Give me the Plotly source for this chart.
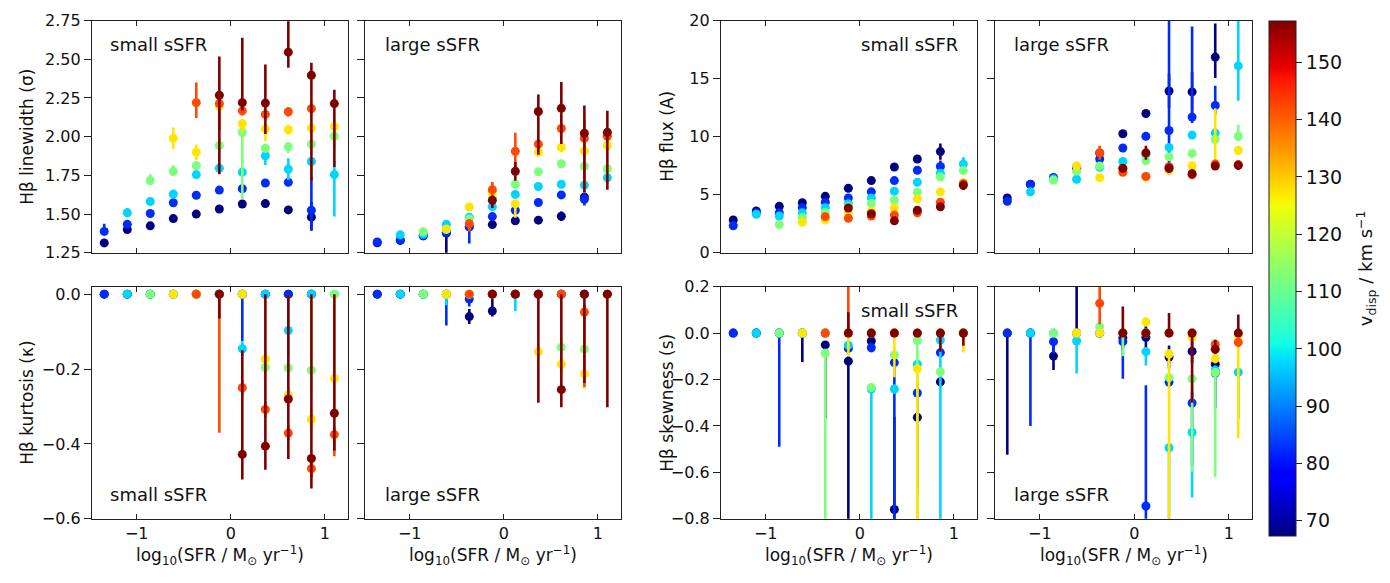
import plotly.graph_objects as go

N = None
D = 0.005

# ---------------- data ----------------
LOG_SFR = [-1.345, -1.1, -0.856, -0.611, -0.367, -0.122, 0.122, 0.367, 0.611, 0.856, 1.1]
VDISP = [67.4, 82.4, 97.4, 112.4, 127.3, 142.3, 157.3]
VMIN, VMAX = 67.4, 157.3

LW_SMALL = [
    [1.314, 1.400, 1.424, 1.471, 1.500, 1.533, 1.565, 1.568, 1.527, 1.480, N],
    [1.388, 1.434, 1.504, 1.573, 1.622, 1.655, 1.664, 1.701, 1.705, 1.525, N],
    [N, 1.509, 1.581, 1.629, 1.755, 1.796, 1.771, 1.877, 1.790, 1.840, 1.755],
    [N, N, 1.717, 1.776, 1.813, 1.943, 2.028, 1.925, 1.935, 1.952, 2.003],
    [N, N, N, 1.990, 1.900, 2.196, 2.084, 2.051, 2.045, 2.055, 2.065],
    [N, N, N, N, 2.220, 2.214, 2.167, 2.144, 2.161, 2.181, N],
    [N, N, N, N, N, 2.268, 2.220, 2.217, 2.546, 2.397, 2.214],
]
LW_SMALL_LO = [
    [0.02, 0.015, 0.015, 0.015, 0.01, 0.01, 0.01, 0.01, 0.015, 0.087, N],
    [0.02, 0.015, 0.015, 0.015, 0.015, 0.015, 0.015, 0.015, 0.015, 0.13, N],
    [N, 0.03, 0.02, 0.02, 0.02, 0.02, 0.02, 0.06, 0.07, 0.10, 0.27],
    [N, N, 0.03, 0.03, 0.03, 0.05, 0.43, 0.03, 0.04, 0.04, 0.09],
    [N, N, N, 0.07, 0.05, 0.03, 0.06, 0.08, 0.03, 0.03, 0.03],
    [N, N, N, N, 0.10, 0.17, 0.03, 0.03, 0.03, 0.03, N],
    [N, N, N, N, N, 0.51, 0.05, 0.20, 0.10, 0.68, 0.41],
]
LW_SMALL_HI = [
    [0.02, 0.015, 0.015, 0.015, 0.01, 0.01, 0.01, 0.01, 0.015, 0.098, N],
    [0.05, 0.02, 0.015, 0.015, 0.015, 0.015, 0.015, 0.015, 0.015, 0.22, N],
    [N, 0.03, 0.02, 0.02, 0.02, 0.02, 0.02, 0.03, 0.07, 0.02, 0.09],
    [N, N, 0.04, 0.04, 0.03, 0.05, 0.05, 0.03, 0.03, 0.03, 0.03],
    [N, N, N, 0.07, 0.05, 0.03, 0.03, 0.03, 0.03, 0.03, 0.05],
    [N, N, N, N, 0.13, 0.03, 0.03, 0.03, 0.03, 0.03, N],
    [N, N, N, N, N, 0.25, 0.42, 0.25, 0.20, 0.08, 0.09],
]

LW_LARGE = [
    [1.315, 1.330, 1.360, 1.378, 1.417, 1.432, 1.457, 1.461, 1.486, 1.610, N],
    [1.320, 1.332, 1.360, 1.380, 1.420, 1.484, 1.525, 1.575, 1.624, 1.596, N],
    [N, 1.366, 1.370, 1.434, 1.480, 1.548, 1.627, 1.678, 1.693, 1.687, 1.735],
    [N, N, 1.386, 1.400, 1.469, 1.606, 1.693, 1.773, 1.825, 1.809, 1.793],
    [N, N, N, 1.403, 1.546, 1.637, 1.566, 1.900, 1.931, 1.908, 1.943],
    [N, N, N, N, 1.438, 1.658, 1.906, 1.952, 2.053, 1.990, 2.003],
    [N, N, N, N, N, 1.589, 1.776, 2.163, 2.183, 2.022, 2.028],
]
LW_LARGE_LO = [
    [0.02, 0.01, 0.01, 0.15, 0.02, 0.015, 0.015, 0.015, 0.03, 0.03, N],
    [0.015, 0.01, 0.01, 0.02, 0.11, 0.015, 0.015, 0.015, 0.015, 0.04, N],
    [N, 0.01, 0.01, 0.02, 0.02, 0.02, 0.02, 0.02, 0.02, 0.02, 0.04],
    [N, N, 0.01, 0.02, 0.07, 0.02, 0.02, 0.02, 0.02, 0.02, 0.02],
    [N, N, N, 0.02, 0.02, 0.02, 0.09, 0.03, 0.03, 0.03, 0.03],
    [N, N, N, N, 0.05, 0.05, 0.10, 0.03, 0.03, 0.35, 0.03],
    [N, N, N, N, N, 0.05, 0.06, 0.28, 0.23, 0.38, 0.37],
]
LW_LARGE_HI = [
    [0.02, 0.01, 0.01, 0.02, 0.02, 0.015, 0.015, 0.015, 0.03, 0.03, N],
    [0.015, 0.01, 0.01, 0.02, 0.02, 0.015, 0.015, 0.015, 0.015, 0.04, N],
    [N, 0.01, 0.01, 0.02, 0.02, 0.02, 0.02, 0.02, 0.02, 0.02, 0.04],
    [N, N, 0.01, 0.02, 0.02, 0.02, 0.02, 0.02, 0.02, 0.02, 0.02],
    [N, N, N, 0.02, 0.02, 0.02, 0.02, 0.03, 0.03, 0.03, 0.03],
    [N, N, N, N, 0.03, 0.05, 0.12, 0.03, 0.03, 0.12, 0.03],
    [N, N, N, N, N, 0.03, 0.06, 0.11, 0.17, 0.18, 0.14],
]

FLUX_SMALL = [
    [2.83, 3.61, 4.00, 4.31, 4.86, 5.56, 6.22, 7.39, 8.08, 8.72, N],
    [2.33, 3.44, 3.44, 3.89, 4.36, 4.72, 5.25, 6.22, 7.11, 7.44, N],
    [N, 3.31, 3.17, 3.44, 3.89, 4.22, 4.72, 5.31, 6.08, 6.86, 7.64],
    [N, N, 2.42, 3.03, 3.47, 3.97, 4.25, 4.53, 5.22, 6.53, 7.08],
    [N, N, N, 2.64, 2.83, 3.47, 3.58, 3.86, 4.64, 5.25, 6.03],
    [N, N, N, N, 3.11, 2.97, 3.17, 3.25, 3.44, 4.36, 5.95],
    [N, N, N, N, N, 3.86, 3.36, 2.75, 3.67, 3.97, 5.81],
]
FLUX_SMALL_ERR = [
    [0.15, 0.15, 0.15, 0.15, 0.15, 0.30, 0.15, 0.20, 0.30, 0.70, N],
    [0.15, 0.15, 0.15, 0.15, 0.15, 0.15, 0.15, 0.20, 0.20, 0.50, N],
    [N, 0.15, 0.15, 0.15, 0.15, 0.15, 0.15, 0.15, 0.30, 0.30, 0.60],
    [N, N, 0.15, 0.15, 0.15, 0.15, 0.15, 0.15, 0.20, 0.20, 0.30],
    [N, N, N, 0.15, 0.15, 0.15, 0.15, 0.15, 0.20, 0.20, 0.40],
    [N, N, N, N, 0.15, 0.15, 0.15, 0.15, 0.15, 0.20, 0.30],
    [N, N, N, N, N, 0.20, 0.20, 0.15, 0.35, 0.20, 0.40],
]

FLUX_LARGE = [
    [4.72, 5.90, 6.47, 7.36, 8.60, 10.25, 12.00, 13.94, 13.86, 16.86, N],
    [4.44, 5.89, 6.47, 7.28, 8.08, 9.03, 10.03, 10.53, 11.69, 12.69, N],
    [N, 5.25, 6.36, 6.33, 7.36, 7.86, 8.47, 9.08, 10.14, 10.31, 16.10],
    [N, N, 6.25, 7.03, 7.47, 7.22, 7.92, 8.28, 8.56, 9.78, 10.04],
    [N, N, N, 7.47, 6.47, 7.28, 6.53, 7.08, 7.50, 7.64, 8.83],
    [N, N, N, N, 8.61, 6.94, 6.58, 7.42, 6.72, 7.64, 7.60],
    [N, N, N, N, N, 7.28, 8.61, 7.28, 6.81, 7.47, 7.53],
]
FLUX_LARGE_LO = [
    [0.15, 0.15, 0.15, 0.2, 0.2, 0.2, 0.2, 1.5, 1.7, 1.8, N],
    [0.15, 0.2, 0.2, 0.2, 0.2, 0.2, 0.2, 3.7, 0.5, 0.8, N],
    [N, 0.2, 0.2, 0.2, 0.2, 0.2, 0.2, 0.2, 0.3, 0.3, 3.0],
    [N, N, 0.2, 0.2, 0.2, 0.2, 0.2, 0.2, 0.2, 0.3, 0.4],
    [N, N, N, 0.4, 0.2, 0.2, 0.2, 0.2, 0.2, 0.2, 0.4],
    [N, N, N, N, 0.6, 0.3, 0.2, 0.2, 0.2, 0.2, 0.3],
    [N, N, N, N, N, 0.3, 0.6, 0.4, 0.4, 0.3, 0.4],
]
FLUX_LARGE_HI = [
    [0.15, 0.15, 0.15, 0.2, 0.2, 0.2, 0.2, 1.5, 1.7, 2.9, N],
    [0.15, 0.2, 0.2, 0.2, 0.2, 0.2, 0.2, 10.0, 7.8, 1.7, N],
    [N, 0.2, 0.2, 0.2, 0.2, 0.2, 0.2, 0.2, 0.3, 0.3, 5.0],
    [N, N, 0.2, 0.2, 0.2, 0.2, 0.2, 0.2, 0.2, 0.3, 1.0],
    [N, N, N, 0.4, 0.2, 0.2, 0.2, 0.2, 0.2, 4.8, 0.4],
    [N, N, N, N, 0.6, 0.3, 0.2, 0.2, 0.2, 0.2, 0.3],
    [N, N, N, N, N, 0.3, 0.6, 0.4, 0.4, 0.3, 0.4],
]

KURT_SMALL = [
    [0, 0, 0, 0, 0, 0, 0, 0, 0, 0, N],
    [0, 0, 0, 0, 0, 0, 0, 0, 0, 0, N],
    [N, 0, 0, 0, 0, 0, -0.146, 0, -0.097, 0, 0],
    [N, N, 0, 0, 0, 0, 0, -0.196, -0.197, -0.203, 0],
    [N, N, N, 0, 0, 0, 0, -0.174, -0.269, -0.334, -0.225],
    [N, N, N, N, 0, 0, -0.250, -0.308, -0.371, -0.466, -0.375],
    [N, N, N, N, N, 0, -0.428, -0.406, -0.280, -0.439, -0.318],
]
KURT_SMALL_LO = [
    [D, D, D, D, D, D, D, D, D, D, N],
    [D, D, D, D, D, D, 0.125, D, D, D, N],
    [N, D, D, D, D, D, 0.02, D, 0.07, D, D],
    [N, N, D, D, D, D, D, 0.02, 0.02, 0.06, D],
    [N, N, N, D, D, D, D, 0.02, 0.02, 0.025, 0.1],
    [N, N, N, N, D, 0.37, 0.02, 0.02, 0.02, 0.025, 0.058],
    [N, N, N, N, N, 0.065, 0.067, 0.063, 0.16, 0.08, 0.10],
]
KURT_SMALL_HI = [
    [D, D, D, D, D, D, D, D, D, D, N],
    [D, D, D, D, D, D, D, D, D, D, N],
    [N, D, D, D, D, D, 0.02, D, 0.097, D, D],
    [N, N, D, D, D, D, D, 0.02, 0.02, 0.203, D],
    [N, N, N, D, D, D, D, 0.02, 0.02, 0.025, 0.225],
    [N, N, N, N, D, D, 0.02, 0.02, 0.02, 0.025, 0.02],
    [N, N, N, N, N, D, 0.278, 0.406, 0.280, 0.439, 0.318],
]

KURT_LARGE = [
    [0, 0, 0, 0, -0.060, -0.045, 0, 0, 0, 0, N],
    [0, 0, 0, 0, -0.013, 0, 0, 0, 0, 0, N],
    [N, 0, 0, 0, 0, 0, 0, 0, 0, 0, 0],
    [N, N, 0, 0, 0, 0, 0, 0, -0.142, -0.147, 0],
    [N, N, N, 0, 0, 0, 0, -0.154, -0.187, -0.213, 0],
    [N, N, N, N, 0, 0, 0, 0, 0, -0.048, 0],
    [N, N, N, N, N, 0, 0, 0, -0.255, 0, 0],
]
KURT_LARGE_LO = [
    [D, D, D, D, 0.02, 0.015, D, D, D, D, N],
    [D, D, D, 0.084, 0.02, D, D, D, D, D, N],
    [N, D, D, 0.03, D, D, 0.045, D, D, D, D],
    [N, N, D, D, D, D, D, D, 0.02, 0.02, D],
    [N, N, N, D, D, D, D, 0.02, 0.02, 0.04, D],
    [N, N, N, N, D, D, D, D, D, 0.20, D],
    [N, N, N, N, N, D, D, 0.29, 0.047, 0.237, 0.302],
]
KURT_LARGE_HI = [
    [D, D, D, D, 0.02, 0.035, D, D, D, D, N],
    [D, D, D, D, 0.02, D, D, D, D, D, N],
    [N, D, D, D, D, D, D, D, D, D, D],
    [N, N, D, D, D, D, D, D, 0.02, 0.02, D],
    [N, N, N, D, D, D, D, 0.02, 0.02, 0.02, D],
    [N, N, N, N, D, D, D, D, D, 0.02, D],
    [N, N, N, N, N, D, D, D, 0.255, D, D],
]

SKEW_SMALL = [
    [0, 0, 0, 0, -0.051, -0.121, -0.034, -0.760, -0.363, -0.210, N],
    [0, 0, 0, 0, 0, -0.066, -0.063, -0.127, -0.258, -0.084, N],
    [N, 0, 0, 0, 0, -0.052, -0.241, -0.241, -0.134, -0.030, 0],
    [N, N, 0, 0, -0.087, 0, -0.234, -0.094, -0.032, -0.167, 0],
    [N, N, N, 0, 0, 0, 0, 0, -0.154, 0, 0],
    [N, N, N, N, 0, 0, 0, 0, 0, 0, 0],
    [N, N, N, N, N, 0, 0, 0, 0, 0, 0],
]
SKEW_SMALL_LO = [
    [D, D, D, 0.124, 0.315, 0.70, D, 0.06, 0.33, 0.02, N],
    [D, D, 0.49, D, D, 0.02, 0.02, 0.70, 0.10, 0.02, N],
    [N, D, D, D, D, 0.02, 0.60, 0.02, 0.02, 0.80, D],
    [N, N, D, D, 0.75, D, 0.02, 0.02, 0.80, 0.02, D],
    [N, N, N, D, D, 0.10, D, 0.19, 0.70, D, 0.083],
    [N, N, N, N, D, D, D, D, D, D, D],
    [N, N, N, N, N, D, D, D, D, 0.08, 0.055],
]
SKEW_SMALL_HI = [
    [D, D, D, D, 0.01, 0.02, D, 0.40, 0.15, 0.02, N],
    [D, D, D, D, D, 0.02, 0.02, 0.02, 0.02, 0.02, N],
    [N, D, D, D, D, 0.02, 0.02, 0.02, 0.02, 0.02, D],
    [N, N, D, D, 0.02, D, 0.02, 0.02, 0.02, 0.02, D],
    [N, N, N, D, D, D, D, D, 0.02, D, D],
    [N, N, N, N, D, 0.30, D, D, D, D, D],
    [N, N, N, N, N, 0.09, D, D, D, D, D],
]

SKEW_LARGE = [
    [0, 0, -0.099, 0, 0, -0.020, -0.018, -0.103, -0.079, -0.134, N],
    [0, 0, -0.037, 0, 0, -0.037, -0.745, -0.211, -0.301, -0.172, N],
    [N, 0, 0, -0.034, 0, 0, -0.080, -0.494, -0.428, -0.160, -0.169],
    [N, N, 0, 0, 0.028, 0, 0, -0.192, -0.197, -0.170, 0],
    [N, N, N, 0, 0, 0, 0.048, -0.090, -0.018, -0.110, -0.012],
    [N, N, N, N, 0.128, 0, 0, 0, 0, -0.048, -0.040],
    [N, N, N, N, N, 0, 0, 0, 0, -0.070, 0],
]
SKEW_LARGE_LO = [
    [0.524, D, 0.06, D, D, 0.05, 0.05, 0.05, 0.05, 0.03, N],
    [D, 0.40, 0.05, D, D, 0.16, 0.08, 0.02, 0.27, 0.15, N],
    [N, D, D, 0.14, D, D, 0.06, 0.31, 0.28, 0.02, 0.20],
    [N, N, D, D, D, 0.10, D, 0.02, 0.40, 0.45, D],
    [N, N, N, D, D, D, 0.02, 0.71, 0.02, 0.02, 0.44],
    [N, N, N, N, 0.09, D, D, D, D, 0.02, 0.02],
    [N, N, N, N, N, D, D, D, 0.30, 0.02, D],
]
SKEW_LARGE_HI = [
    [D, D, 0.06, 0.20, D, 0.02, 0.05, 0.05, 0.05, 0.03, N],
    [D, D, 0.03, D, D, D, 0.52, 0.02, 0.05, 0.02, N],
    [N, D, D, D, D, D, 0.02, 0.02, 0.02, 0.02, 0.02],
    [N, N, D, D, D, D, D, 0.02, 0.02, 0.02, D],
    [N, N, N, D, D, D, 0.02, 0.02, 0.02, 0.02, D],
    [N, N, N, N, 0.08, D, D, D, D, 0.02, 0.02],
    [N, N, N, N, N, 0.114, D, 0.087, D, 0.04, 0.08],
]

PANEL_LABELS = ["small sSFR", "large sSFR", "small sSFR", "large sSFR",
                "small sSFR", "large sSFR", "small sSFR", "large sSFR"]
Y_TITLES = ["Hβ linewidth (σ)", "Hβ flux (A)", "Hβ kurtosis (κ)", "Hβ skewness (s)"]
X_TITLE = "log<sub>10</sub>(SFR / M<sub>⊙</sub> yr<sup>−1</sup>)"
CB_TITLE = "v<sub>disp</sub> / km s<sup>−1</sup>"
CB_TICKS = [70, 80, 90, 100, 110, 120, 130, 140, 150]

# ---------------- matplotlib 'jet' ----------------
JET_R = [(0, 0), (0.35, 0), (0.66, 1), (0.89, 1), (1, 0.5)]
JET_G = [(0, 0), (0.125, 0), (0.375, 1), (0.64, 1), (0.91, 0), (1, 0)]
JET_B = [(0, 0.5), (0.11, 1), (0.34, 1), (0.65, 0), (1, 0)]


def _seg(pts, t):
    for (a, va), (b, vb) in zip(pts[:-1], pts[1:]):
        if a <= t <= b:
            return va + (vb - va) * (t - a) / (b - a) if b > a else vb
    return pts[-1][1]


def jet(t):
    t = min(max(t, 0.0), 1.0)
    r, g, b = (_seg(JET_R, t), _seg(JET_G, t), _seg(JET_B, t))
    return "rgb(%d,%d,%d)" % (round(r * 255), round(g * 255), round(b * 255))


BREAKS = [0, 0.11, 0.125, 0.34, 0.35, 0.375, 0.64, 0.65, 0.66, 0.89, 0.91, 1]
JET_SCALE = [[b, jet(b)] for b in BREAKS]
COLORS = [jet((v - VMIN) / (VMAX - VMIN)) for v in VDISP]

# ---------------- layout geometry (pixels) ----------------
W, H = 1390, 583
COLS = [(92, 348), (365, 621), (721, 977), (995, 1252)]
ROWS = [(12, 252), (287, 527)]

panels = [
    (LW_SMALL, LW_SMALL_LO, LW_SMALL_HI),
    (LW_LARGE, LW_LARGE_LO, LW_LARGE_HI),
    (FLUX_SMALL, FLUX_SMALL_ERR, FLUX_SMALL_ERR),
    (FLUX_LARGE, FLUX_LARGE_LO, FLUX_LARGE_HI),
    (KURT_SMALL, KURT_SMALL_LO, KURT_SMALL_HI),
    (KURT_LARGE, KURT_LARGE_LO, KURT_LARGE_HI),
    (SKEW_SMALL, SKEW_SMALL_LO, SKEW_SMALL_HI),
    (SKEW_LARGE, SKEW_LARGE_LO, SKEW_LARGE_HI),
]
YRANGES = [(1.25, 2.75), (1.25, 2.75), (0, 20), (0, 20),
           (-0.6, 0.02), (-0.6, 0.02), (-0.8, 0.2), (-0.8, 0.2)]
YTICKS = [[1.25, 1.5, 1.75, 2.0, 2.25, 2.5, 2.75]] * 2 + [[0, 5, 10, 15, 20]] * 2 + \
         [[0.0, -0.2, -0.4, -0.6]] * 2 + [[0.2, 0.0, -0.2, -0.4, -0.6, -0.8]] * 2
YFMT = [".2f", ".2f", "d", "d", ".1f", ".1f", ".1f", ".1f"]

FONT = "DejaVu Sans"
LINE = "#222222"
TXT = "#111111"

fig = go.Figure()


def z(v):
    return [0 if e is None else e for e in v]


for p, (vals, lo, hi) in enumerate(panels):
    ax = "" if p == 0 else str(p + 1)
    for s in range(7):
        fig.add_trace(go.Scatter(
            x=LOG_SFR, y=vals[s], mode="markers",
            xaxis="x" + ax, yaxis="y" + ax,
            marker=dict(size=9, color=COLORS[s], line=dict(width=0)),
            error_y=dict(type="data", symmetric=False, array=z(hi[s]), arrayminus=z(lo[s]),
                         color=COLORS[s], thickness=2.6, width=0),
            showlegend=False, hoverinfo="skip", cliponaxis=True,
        ))

# colour bar carrier
fig.add_trace(go.Scatter(
    x=[None], y=[None], mode="markers", xaxis="x", yaxis="y",
    marker=dict(color=[VMIN], cmin=VMIN, cmax=VMAX, colorscale=JET_SCALE, showscale=True,
                colorbar=dict(
                    x=1269 / W, xanchor="left", xref="paper", xpad=0,
                    y=1 - 12 / H, yanchor="top", yref="paper", ypad=0,
                    len=515, lenmode="pixels", thickness=27, thicknessmode="pixels",
                    outlinewidth=1, outlinecolor=LINE,
                    tickvals=CB_TICKS,
                    ticks="outside", ticklen=6, tickwidth=1, tickcolor=LINE,
                    tickfont=dict(family=FONT, size=19, color=TXT),
                )),
    showlegend=False, hoverinfo="skip",
))

layout = dict(
    width=W, height=H, margin=dict(l=0, r=0, t=0, b=0),
    paper_bgcolor="white", plot_bgcolor="white",
    font=dict(family=FONT, size=16, color=TXT),
)

for p in range(8):
    col, row = p % 4, p // 4
    x0, x1 = COLS[col]
    y0, y1 = ROWS[row]
    ax = "" if p == 0 else str(p + 1)
    layout["xaxis" + ax] = dict(
        domain=[x0 / W, x1 / W], anchor="y" + ax,
        range=[-1.475, 1.245], tickvals=[-1, 0, 1], ticktext=["−1", "0", "1"],
        ticks="inside", ticklen=5, tickwidth=1, tickcolor=LINE,
        showline=True, linecolor=LINE, linewidth=1.2, mirror="ticks",
        showgrid=False, zeroline=False, showticklabels=(row == 1),
        tickfont=dict(family=FONT, size=16, color=TXT),
    )
    layout["yaxis" + ax] = dict(
        domain=[1 - y1 / H, 1 - y0 / H], anchor="x" + ax,
        range=list(YRANGES[p]), tickvals=YTICKS[p], tickformat=YFMT[p],
        ticks="outside", ticklen=7, tickwidth=1, tickcolor=LINE,
        showline=True, linecolor=LINE, linewidth=1.2, mirror=True,
        showgrid=False, zeroline=False, showticklabels=(col in (0, 2)),
        tickfont=dict(family=FONT, size=16, color=TXT),
    )

ann = []
LABEL_POS = [(108, 37, "left"), (383, 37, "left"), (960, 37, "right"), (1012, 37, "left"),
             (108, 502, "left"), (383, 502, "left"), (960, 312, "right"), (1012, 502, "left")]
for p, (px, py, al) in enumerate(LABEL_POS):
    ann.append(dict(x=px / W, y=1 - py / H, xref="paper", yref="paper", text=PANEL_LABELS[p],
                    xanchor=al, yanchor="middle", showarrow=False,
                    font=dict(family=FONT, size=18, color=TXT)))

YT_POS = [(27, 132), (667, 132), (27, 407), (667, 407)]
for (px, py), t in zip(YT_POS, Y_TITLES):
    ann.append(dict(x=px / W, y=1 - py / H, xref="paper", yref="paper", text=t, textangle=-90,
                    xanchor="center", yanchor="middle", showarrow=False,
                    font=dict(family=FONT, size=17, color=TXT)))
for col in range(4):
    cx = (COLS[col][0] + COLS[col][1]) / 2
    ann.append(dict(x=cx / W, y=1 - 565 / H, xref="paper", yref="paper", text=X_TITLE,
                    xanchor="center", yanchor="middle", showarrow=False,
                    font=dict(family=FONT, size=17, color=TXT)))
# colour bar title
ann.append(dict(x=1366 / W, y=1 - 268 / H, xref="paper", yref="paper", text=CB_TITLE,
                textangle=-90, xanchor="center", yanchor="middle", showarrow=False,
                font=dict(family=FONT, size=18, color=TXT)))
layout["annotations"] = ann

fig.update_layout(**layout)
fig.write_html("out.html")
